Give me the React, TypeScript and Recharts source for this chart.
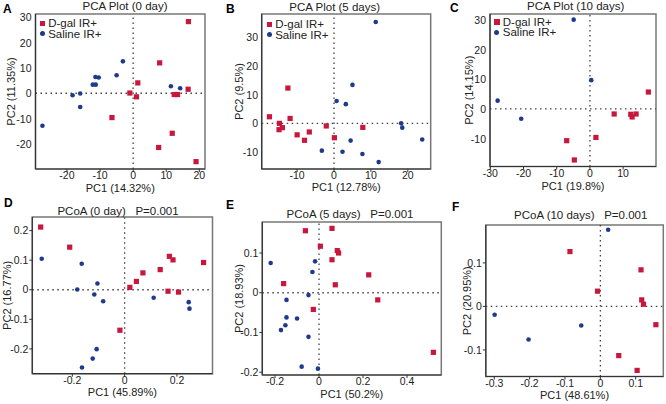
import React from "react";
import {
  ScatterChart, Scatter, XAxis, YAxis, ReferenceLine, ReferenceArea, Label,
} from "recharts";

// [PC1, PC2] per sample
const pcaDay0Dgal = [[16.7, 28.3], [8.0, 12.0], [1.4, 4.1], [-1.0, 0.1], [1.0, -1.4], [12.4, -0.5], [13.4, -0.5], [16.6, 1.6], [-6.4, -9.6], [11.8, -15.8], [7.7, -21.4], [19.0, -27.0]];
const pcaDay0Saline = [[-3.1, 12.6], [-5.0, 7.1], [-11.4, 6.4], [-10.4, 6.2], [-12.2, 3.4], [-11.3, 3.4], [-16.0, -0.1], [-18.3, -0.8], [-16.0, -5.4], [-27.4, -12.8], [11.4, 2.8], [14.2, 2.0]];

const pcaDay5Dgal = [[-12.5, 12.3], [-17.5, 2.3], [-11.9, 1.7], [-14.8, 0], [-14.0, -1.5], [-14.9, -2.2], [-10.0, -4.0], [-6.7, -3.0], [-8.0, -5.9], [-2.1, -0.9], [0.1, -5.0], [7.8, -1.4]];
const pcaDay5Saline = [[11.3, 35.3], [5.0, 13.4], [0.7, 7.8], [3.2, 6.7], [18.2, 0], [18.5, -1.5], [23.9, -5.6], [4.5, -6.0], [-3.3, -9.5], [2.3, -9.9], [7.7, -10.7], [12.1, -13.5]];

const pcaDay10Dgal = [[17.6, 5.7], [7.3, -1.7], [12.3, -1.8], [12.7, -2.7], [13.9, -1.7], [1.8, -9.6], [-7.0, -10.7], [-4.7, -17.2]];
const pcaDay10Saline = [[-4.9, 30.1], [0.4, 9.7], [-27.8, 2.8], [-20.7, -3.3]];

const pcoaDay0Dgal = [[-0.321, 0.212], [-0.21, 0.144], [0.171, 0.113], [0.185, 0.101], [0.302, 0.092], [0.136, 0.068], [0.07, 0.057], [0.045, 0.028], [0.02, 0.008], [0.166, -0.005], [0.206, -0.008], [-0.018, -0.137]];
const pcoaDay0Saline = [[-0.317, 0.105], [-0.164, 0.088], [-0.104, 0.021], [-0.181, 0.001], [-0.116, -0.016], [-0.082, -0.039], [0.111, -0.027], [0.245, -0.042], [0.248, -0.064], [-0.107, -0.201], [-0.122, -0.233], [-0.163, -0.263]];

const pcoaDay5Dgal = [[-0.062, 0.156], [0.059, 0.162], [0.006, 0.117], [0.083, 0.106], [0.089, 0.1], [0.059, 0.083], [0.226, 0.045], [0.074, 0.02], [-0.161, 0.023], [0.267, -0.018], [-0.026, -0.042], [0.52, -0.15]];
const pcoaDay5Saline = [[-0.22, 0.075], [-0.018, 0.079], [-0.03, 0.052], [-0.048, -0.006], [-0.148, -0.018], [-0.148, -0.062], [-0.1, -0.065], [-0.153, -0.082], [-0.173, -0.094], [-0.048, -0.111], [-0.079, -0.186], [-0.005, -0.191]];

const pcoaDay10Dgal = [[-0.086, 0.126], [0.115, 0.084], [-0.008, 0.035], [0.117, 0.015], [0.122, 0.005], [0.157, -0.042], [0.052, -0.113], [0.104, -0.147]];
const pcoaDay10Saline = [[0.022, 0.176], [-0.299, -0.019], [-0.203, -0.076], [-0.054, -0.044]];

const groupLabels = ["D-gal IR+", "Saline IR+"];

const FONT = '"Liberation Sans", Arial, sans-serif';
const RED = "#c8163c";
const BLUE = "#1d3a8c";
const PAD = 12;

const pts = (a: number[][]) => a.map(([x, y]) => ({ x, y }));

const panels = [
  {
    letter: "A", title: "PCA Plot (0 day)", titleAt: [125, 7], letterAt: [3, 9],
    box: { l: 35.5, t: 14, r: 205, b: 169 }, lx: 11, xlb: 191.5,
    xDomain: [-29.5, 21.7], yDomain: [-29.9, 31.3],
    xTicks: [-20, -10, 0, 10, 20], yTicks: [-20, -10, 0, 10, 20, 30],
    xLabel: "PC1 (14.32%)", yLabel: "PC2 (11.35%)",
    red: pcaDay0Dgal, blue: pcaDay0Saline, legend: [42.7, 24],
  },
  {
    letter: "B", title: "PCA Plot (5 days)", titleAt: [334.7, 8], letterAt: [226, 9],
    box: { l: 262, t: 14, r: 431, b: 169 }, lx: 239.3, xlb: 191,
    xDomain: [-19.6, 26.2], yDomain: [-15.9, 38.1],
    xTicks: [-10, 0, 10, 20], yTicks: [-10, 0, 10, 20, 30],
    xLabel: "PC1 (12.78%)", yLabel: "PC2 (9.5%)",
    red: pcaDay5Dgal, blue: pcaDay5Saline, legend: [269.7, 25],
  },
  {
    letter: "C", title: "PCA Plot (10 days)", titleAt: [575.7, 7], letterAt: [450, 8],
    box: { l: 490, t: 14, r: 656, b: 166.5 }, lx: 469, xlb: 190,
    xDomain: [-30.1, 19.9], yDomain: [-19.4, 32.0],
    xTicks: [-30, -20, -10, 0, 10], yTicks: [-10, 0, 10, 20, 30],
    xLabel: "PC1 (19.8%)", yLabel: "PC2 (14.15%)",
    red: pcaDay10Dgal, blue: pcaDay10Saline, legend: [497.3, 22.7],
  },
  {
    letter: "D", title: "PCoA (0 day)   P=0.001", titleAt: [118, 212], letterAt: [4, 203],
    box: { l: 32.3, t: 217, r: 212.5, b: 373.7 }, lx: 7, xlb: 396,
    xDomain: [-0.353, 0.336], yDomain: [-0.284, 0.246],
    xTicks: [-0.2, 0, 0.2], yTicks: [-0.2, -0.1, 0, 0.1, 0.2],
    xLabel: "PC1 (45.89%)", yLabel: "PC2 (16.77%)",
    red: pcoaDay0Dgal, blue: pcoaDay0Saline,
  },
  {
    letter: "E", title: "PCoA (5 days)   P=0.001", titleAt: [350, 215], letterAt: [226, 205],
    box: { l: 262, t: 222, r: 441, b: 375 }, lx: 238.7, xlb: 398.5,
    xDomain: [-0.258, 0.556], yDomain: [-0.207, 0.178],
    xTicks: [-0.2, 0, 0.2, 0.4], yTicks: [-0.2, -0.1, 0, 0.1],
    xLabel: "PC1 (50.2%)", yLabel: "PC2 (18.93%)",
    red: pcoaDay5Dgal, blue: pcoaDay5Saline,
  },
  {
    letter: "F", title: "PCoA (10 days)   P=0.001", titleAt: [580.7, 216], letterAt: [452, 207],
    box: { l: 485.5, t: 225, r: 663, b: 376.5 }, lx: 466.7, xlb: 399.5,
    xDomain: [-0.324, 0.178], yDomain: [-0.161, 0.187],
    xTicks: [-0.3, -0.2, -0.1, 0, 0.1], yTicks: [-0.1, 0, 0.1],
    xLabel: "PC1 (48.61%)", yLabel: "PC2 (20.95%)",
    red: pcoaDay10Dgal, blue: pcoaDay10Saline,
  },
];

const Square = (props: any) => (
  <rect x={props.cx - 2.6} y={props.cy - 2.6} width={5.2} height={5.2} fill={RED} />
);
const Circle = (props: any) => <circle cx={props.cx} cy={props.cy} r={2.3} fill={BLUE} />;

const tickStyle = { fontSize: 10.5, fill: "#222" };
const axisLine = { stroke: "#333", strokeWidth: 1.2 };

function Panel({ p }: { p: any }) {
  const { box, lx, xlb } = p;
  const left = lx - PAD;
  const top = box.t - 2;
  const xAxisH = xlb - box.b;
  const yAxisW = box.l - lx + PAD;
  const width = box.r - lx + PAD + 2;
  const height = 2 + (box.b - box.t) + xAxisH + 2;
  // PCA panels lose their y tick text in this renderer, so it is laid over them from the same domain
  const [y0, y1] = p.yDomain;
  const tickTop = (v: number) => 2 + ((y1 - v) / (y1 - y0)) * (box.b - box.t);
  return (
    <div style={{ position: "absolute", left, top, width, height }}>
      <ScatterChart width={width} height={height} margin={{ top: 2, right: 2, bottom: 2, left: 0 }}>
        <XAxis
          type="number" dataKey="x" domain={p.xDomain} ticks={p.xTicks} allowDataOverflow interval={0}
          height={xAxisH} tick={tickStyle} tickSize={3} tickMargin={0}
          axisLine={axisLine} tickLine={{ stroke: "#333" }}
        >
          <Label value={p.xLabel} position="insideBottom" offset={0} style={{ fontSize: 11, fill: "#222" }} />
        </XAxis>
        <YAxis
          type="number" dataKey="y" domain={p.yDomain} ticks={p.yTicks} allowDataOverflow interval={0}
          width={yAxisW} tick={p.legend ? false : tickStyle} tickSize={3} tickMargin={1}
          axisLine={axisLine} tickLine={{ stroke: "#333" }}
        >
          <Label
            value={p.yLabel} angle={-90} position="insideLeft" offset={PAD}
            style={{ fontSize: 11, fill: "#222", textAnchor: "middle" }}
          />
        </YAxis>
        <ReferenceArea
          x1={p.xDomain[0]} x2={p.xDomain[1]} y1={p.yDomain[0]} y2={p.yDomain[1]}
          fill="none" stroke="#777" strokeWidth={1.5}
        />
        <ReferenceLine x={0} stroke="#444" strokeWidth={1.3} strokeDasharray="1.5 3.5" />
        <ReferenceLine y={0} stroke="#444" strokeWidth={1.3} strokeDasharray="1.5 3.5" />
        <Scatter name={groupLabels[0]} data={pts(p.red)} shape={Square} isAnimationActive={false} />
        <Scatter name={groupLabels[1]} data={pts(p.blue)} shape={Circle} isAnimationActive={false} />
      </ScatterChart>
      {p.legend && p.yTicks.map((v: number) => (
        <div key={v} style={{
          position: "absolute", right: width - (box.l - left - 4), top: tickTop(v), transform: "translateY(-50%)",
          fontSize: 10.5, lineHeight: 1, color: "#222", whiteSpace: "nowrap",
        }}>{String(v)}</div>
      ))}
      <div style={{
        position: "absolute", left: p.titleAt[0] - left, top: p.titleAt[1] - top, transform: "translate(-50%, -50%)",
        fontSize: 11.5, color: "#222", whiteSpace: "pre", lineHeight: 1,
      }}>{p.title}</div>
      <div style={{
        position: "absolute", left: p.letterAt[0] - left, top: p.letterAt[1] - top, transform: "translateY(-50%)",
        fontSize: 12, fontWeight: "bold", lineHeight: 1,
      }}>{p.letter}</div>
      {p.legend && (
        <div style={{
          position: "absolute", left: p.legend[0] - 3 - left, top: p.legend[1] - 6 - top,
          fontSize: 11.5, lineHeight: "10.5px", color: "#222", whiteSpace: "nowrap",
        }}>
          <div style={{ display: "flex", alignItems: "center" }}>
            <span style={{ width: 5.5, height: 5.5, background: RED, marginRight: 3 }} />{groupLabels[0]}
          </div>
          <div style={{ display: "flex", alignItems: "center" }}>
            <span style={{ width: 5, height: 5, borderRadius: "50%", background: BLUE, marginRight: 3.5 }} />{groupLabels[1]}
          </div>
        </div>
      )}
    </div>
  );
}

export default function App() {
  return (
    <div style={{ position: "absolute", left: 0, top: 0, width: 666, height: 404, background: "#fff", fontFamily: FONT, overflow: "hidden" }}>
      {panels.map((p) => <Panel key={p.letter} p={p} />)}
    </div>
  );
}
